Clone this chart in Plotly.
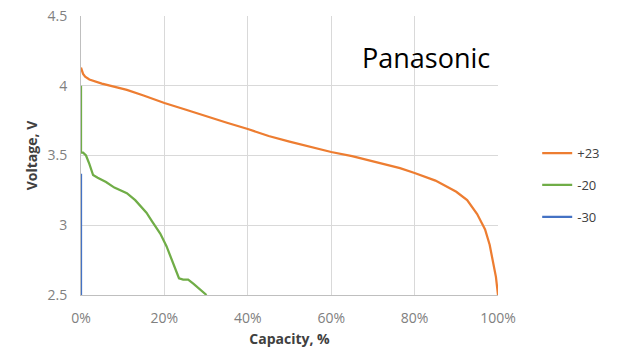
import plotly.graph_objects as go

# Data (capacity in fraction, voltage in V)
cap_p23 = [0.0, 0.002, 0.005, 0.01, 0.02, 0.05, 0.11, 0.15, 0.20, 0.25, 0.30, 0.35, 0.40, 0.45, 0.50, 0.55, 0.60, 0.65, 0.70, 0.765, 0.80, 0.85, 0.90, 0.926, 0.95, 0.969, 0.98, 0.988, 0.995, 1.0]
v_p23 = [4.13, 4.11, 4.085, 4.065, 4.045, 4.015, 3.97, 3.93, 3.876, 3.83, 3.78, 3.735, 3.69, 3.64, 3.60, 3.56, 3.525, 3.495, 3.46, 3.41, 3.375, 3.32, 3.24, 3.18, 3.08, 2.97, 2.86, 2.75, 2.63, 2.5]

cap_m20 = [0.0, 0.0, 0.005, 0.012, 0.02, 0.029, 0.04, 0.06, 0.08, 0.11, 0.13, 0.157, 0.17, 0.19, 0.205, 0.22, 0.235, 0.245, 0.257, 0.27, 0.285, 0.301]
v_m20 = [4.0, 3.52, 3.52, 3.50, 3.44, 3.36, 3.34, 3.31, 3.27, 3.23, 3.18, 3.09, 3.03, 2.94, 2.85, 2.73, 2.62, 2.61, 2.61, 2.58, 2.54, 2.5]

cap_m30 = [0.0, 0.0]
v_m30 = [3.37, 2.5]

x_ticks = [0, 0.2, 0.4, 0.6, 0.8, 1.0]
x_tick_labels = ["0%", "20%", "40%", "60%", "80%", "100%"]
y_ticks = [2.5, 3, 3.5, 4, 4.5]
y_tick_labels = ["2.5", "3", "3.5", "4", "4.5"]

series_names = ["+23", "-20", "-30"]
colors = ["#ED7D31", "#70AD47", "#4472C4"]

fig = go.Figure()
for name, xs, ys, c in zip(series_names, [cap_p23, cap_m20, cap_m30], [v_p23, v_m20, v_m30], colors):
    fig.add_trace(go.Scatter(x=xs, y=ys, mode="lines", name=name, legendgroup=name,
                             line=dict(color=c, width=2.25)))

font_family = "Open Sans, Liberation Sans, sans-serif"
fig.update_layout(
    width=621, height=350,
    margin=dict(l=81, r=123, t=16, b=55),
    paper_bgcolor="white", plot_bgcolor="white",
    font=dict(family=font_family, color="#595959", size=13),
    showlegend=True,
    legend=dict(x=1.094, y=0.394, xanchor="left", yanchor="middle",
                font=dict(size=13, color="#404040"), bgcolor="rgba(0,0,0,0)",
                tracegroupgap=12, itemwidth=30),
    xaxis=dict(range=[0, 1.0], tickvals=x_ticks, ticktext=x_tick_labels,
               showgrid=True, gridcolor="#D9D9D9", gridwidth=1,
               showline=True, linecolor="#BFBFBF", linewidth=1, automargin=False,
               zeroline=False, ticks="outside", ticklen=10, tickcolor="rgba(0,0,0,0)",
               title=dict(text="<b>Capacity, %</b>", font=dict(size=14, color="#404040"), standoff=8),
               tickfont=dict(size=14, color="#808080")),
    yaxis=dict(range=[2.5, 4.5], tickvals=y_ticks, ticktext=y_tick_labels,
               showgrid=True, gridcolor="#D9D9D9", gridwidth=1,
               showline=True, linecolor="#BFBFBF", linewidth=1, automargin=False,
               zeroline=False, ticks="outside", ticklen=10, tickcolor="rgba(0,0,0,0)",
               title=dict(text="<b>Voltage, V</b>", font=dict(size=14, color="#404040"), standoff=6),
               tickfont=dict(size=14, color="#808080")),
    annotations=[dict(text="Panasonic", x=0.985, y=4.2, xref="x", yref="y",
                      xanchor="right", yanchor="middle", showarrow=False,
                      font=dict(size=27, color="#000000", family=font_family))],
)

fig.write_html("out.html")
